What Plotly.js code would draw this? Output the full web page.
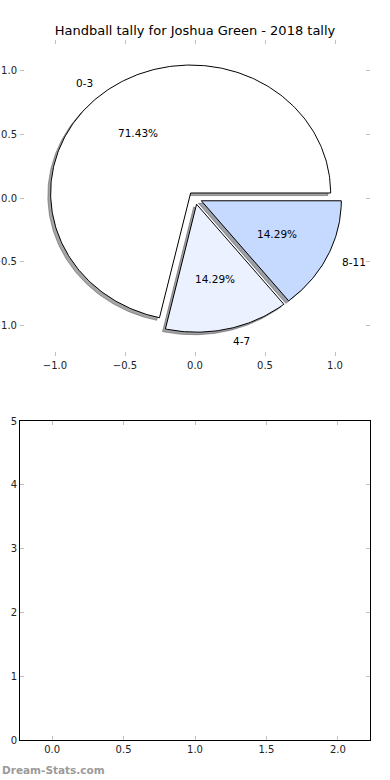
<!DOCTYPE html>
<html>
<head>
<meta charset="utf-8">
<script src="https://cdn.plot.ly/plotly-3.0.1.min.js"></script>
<style>html,body{margin:0;padding:0;background:#fff;}#chart{width:390px;height:780px;}</style>
</head>
<body>
<div id="chart"></div>
<script>
// ---- data ----
const categories = ['0-3', '4-7', '8-11'];
const values = [5, 1, 1];
const sliceColors = ['#ffffff', '#ebf1ff', '#c6d9ff'];
const explode = [0.05, 0.05, 0.05];
const pieTicks = [-1.0, -0.5, 0.0, 0.5, 1.0];
const bottomXTicks = [0.0, 0.5, 1.0, 1.5, 2.0];
const bottomYTicks = [0, 1, 2, 3, 4, 5];
const titleText = 'Handball tally for Joshua Green - 2018 tally';

// ---- build wedges ----
const total = values.reduce((a, b) => a + b, 0);
const FONT = 'DejaVu Sans, sans-serif';
const shadowTraces = [], wedgeTraces = [], annotations = [];
let t1 = 0;
function hexToRgb(h) { return [parseInt(h.slice(1,3),16), parseInt(h.slice(3,5),16), parseInt(h.slice(5,7),16)]; }
values.forEach((v, i) => {
  const frac = v / total;
  const t2 = t1 + frac;
  const thm = Math.PI * (t1 + t2);
  const cx = explode[i] * Math.cos(thm), cy = explode[i] * Math.sin(thm);
  const xs = [cx], ys = [cy];
  const a1 = 2 * Math.PI * t1, a2 = 2 * Math.PI * t2;
  const n = Math.max(8, Math.ceil((a2 - a1) / (Math.PI / 180)));
  for (let k = 0; k <= n; k++) {
    const a = a1 + (a2 - a1) * k / n;
    xs.push(cx + Math.cos(a)); ys.push(cy + Math.sin(a));
  }
  xs.push(cx); ys.push(cy);
  const rgb = hexToRgb(sliceColors[i]).map(c => Math.round(c * 0.3));
  const sc = 'rgba(' + rgb.join(',') + ',0.5)';
  shadowTraces.push({
    type: 'scatter', mode: 'lines', x: xs.map(x => x - 0.02), y: ys.map(y => y - 0.02),
    fill: 'toself', fillcolor: sc, line: {color: sc, width: 1},
    xaxis: 'x', yaxis: 'y', hoverinfo: 'skip', showlegend: false
  });
  wedgeTraces.push({
    type: 'scatter', mode: 'lines', x: xs, y: ys,
    fill: 'toself', fillcolor: sliceColors[i], line: {color: '#000', width: 1},
    xaxis: 'x', yaxis: 'y', hoverinfo: 'skip', showlegend: false
  });
  const lx = cx + 1.1 * Math.cos(thm), ly = cy + 1.1 * Math.sin(thm);
  annotations.push({
    x: lx, y: ly, xref: 'x', yref: 'y', text: categories[i], showarrow: false,
    xanchor: lx > 0 ? 'left' : 'right', yanchor: 'middle',
    font: {family: FONT, size: 10.5, color: '#000'}
  });
  const px = cx + 0.6 * Math.cos(thm), py = cy + 0.6 * Math.sin(thm);
  annotations.push({
    x: px, y: py, xref: 'x', yref: 'y', text: (100 * frac).toFixed(2) + '%', showarrow: false,
    xanchor: 'center', yanchor: 'middle',
    font: {family: FONT, size: 10.5, color: '#000'}
  });
  t1 = t2;
});

annotations.push({
  text: '<b>Dream-Stats.com</b>', xref: 'paper', yref: 'paper', x: 0, y: -40/700 + (-30/700) + 0.0,
  showarrow: false, xanchor: 'left', yanchor: 'middle',
  font: {family: FONT, size: 10.5, color: '#9a9a9a'}
});
// place watermark precisely with container-ish coords (paper: plot area 40..740 px)
annotations[annotations.length - 1].x = -20 / 350;
annotations[annotations.length - 1].y = (740 - 770) / 700;

const tickFont = {family: FONT, size: 10, color: '#222'};
const layout = {
  width: 390, height: 780,
  margin: {l: 20, r: 20, t: 40, b: 40, pad: 0},
  paper_bgcolor: '#fff', plot_bgcolor: 'rgba(0,0,0,0)',
  showlegend: false,
  title: {text: titleText, font: {family: FONT, size: 13, color: '#000'},
          x: 0.5, xref: 'container', xanchor: 'center', y: 1 - 30/780, yref: 'container', yanchor: 'middle'},
  xaxis: {domain: [0, 1], anchor: 'y', range: [-1.25, 1.25], tickvals: pieTicks, tickformat: '.1f',
          showgrid: false, zeroline: false, showline: true, linecolor: 'rgba(0,0,0,0)', mirror: 'ticks',
          ticks: 'inside', ticklen: 4, tickwidth: 1, tickcolor: '#c0c0c0', tickfont: tickFont, fixedrange: true},
  yaxis: {domain: [(740 - 356) / 700, 1], anchor: 'x', range: [-1.235, 1.235], tickvals: pieTicks, tickformat: '.1f',
          showgrid: false, zeroline: false, showline: true, linecolor: 'rgba(0,0,0,0)', mirror: 'ticks',
          ticks: 'inside', ticklen: 4, tickwidth: 1, tickcolor: '#c0c0c0', tickfont: tickFont, fixedrange: true},
  xaxis2: {domain: [0, 1], anchor: 'y2', range: [-0.225, 2.225], tickvals: bottomXTicks, tickformat: '.1f',
          showgrid: false, zeroline: false, showline: true, linecolor: '#000', linewidth: 1, mirror: 'ticks',
          ticks: 'inside', ticklen: 4, tickwidth: 1, tickcolor: '#c0c0c0', tickfont: tickFont, fixedrange: true},
  yaxis2: {domain: [0, (740 - 421) / 700], anchor: 'x2', range: [0, 5], tickvals: bottomYTicks, tickformat: 'd',
          showgrid: false, zeroline: false, showline: true, linecolor: '#000', linewidth: 1, mirror: 'ticks',
          ticks: 'inside', ticklen: 4, tickwidth: 1, tickcolor: '#c0c0c0', tickfont: tickFont, fixedrange: true},
  annotations: annotations
};
const emptyTrace = {type: 'scatter', mode: 'markers', x: [], y: [], xaxis: 'x2', yaxis: 'y2', hoverinfo: 'skip', showlegend: false};
Plotly.newPlot('chart', shadowTraces.concat(wedgeTraces, [emptyTrace]), layout, {staticPlot: true, displayModeBar: false});
</script>
</body>
</html>
